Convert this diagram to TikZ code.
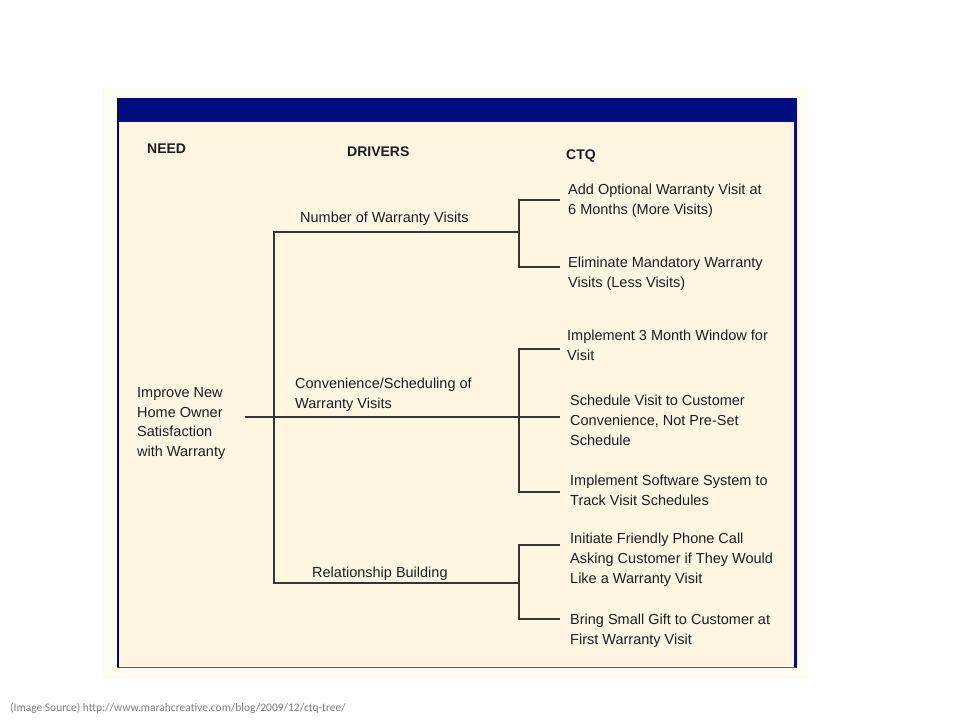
\documentclass[tikz,border=0pt]{standalone}
\usepackage{fontspec}
\setmainfont{Liberation Sans}
\newfontfamily\footfont{Carlito}
\definecolor{outerbg}{HTML}{FFFDF1}
\definecolor{innerbg}{HTML}{FFF5E3}
\definecolor{navy}{HTML}{000C80}
\definecolor{linec}{HTML}{3A3530}
\definecolor{txt}{HTML}{1E1E1E}
\definecolor{foot}{HTML}{7F7F7F}
\tikzset{
  lbl/.style={anchor=west, inner sep=0pt, align=left, text=txt,
    font=\fontsize{14.5}{19.8}\selectfont},
  hdr/.style={anchor=west, inner sep=0pt, text=txt,
    font=\fontsize{14}{17}\selectfont\bfseries},
  conn/.style={draw=linec, line width=1.8pt},
}
\begin{document}
\begin{tikzpicture}[x=1pt,y=-1pt]
\useasboundingbox (0,0) rectangle (960,720);
\fill[white] (0,0) rectangle (960,720);
% panel
\fill[outerbg] (103,88) rectangle (808,679);
\fill[innerbg] (117,98) rectangle (796,668);
\fill[navy] (117,98) rectangle (796,122);
\draw[navy!70!black, line width=2pt] (118,98) -- (118,668);
\draw[navy, line width=3pt] (795,98) -- (795,668);
\draw[black!65, line width=1.6pt] (117,667.5) -- (796,667.5);
% headings
\node[hdr] (need) at (147,149) {NEED};
\node[hdr] (drivers) at (347,152) {DRIVERS};
\node[hdr] (ctq) at (566,156) {CTQ};
% need text
\node[lbl] (goal) at (137,423.5) {Improve New\\Home Owner\\Satisfaction\\with Warranty};
% drivers
\node[lbl] (d1) at (300,219) {Number of Warranty Visits};
\node[lbl] (d2) at (295,395) {Convenience/Scheduling of\\Warranty Visits};
\node[lbl] (d3) at (312,574) {Relationship Building};
% ctqs
\node[lbl] (c1) at (568,201) {Add Optional Warranty Visit at\\6 Months (More Visits)};
\node[lbl] (c2) at (568,274) {Eliminate Mandatory Warranty\\Visits (Less Visits)};
\node[lbl] (c3) at (567,345) {Implement 3 Month Window for\\Visit};
\node[lbl] (c4) at (570,420.5) {Schedule Visit to Customer\\Convenience, Not Pre-Set\\Schedule};
\node[lbl] (c5) at (570,490.5) {Implement Software System to\\Track Visit Schedules};
\node[lbl] (c6) at (570,560) {Initiate Friendly Phone Call\\Asking Customer if They Would\\Like a Warranty Visit};
\node[lbl] (c7) at (570,631) {Bring Small Gift to Customer at\\First Warranty Visit};
% junction coordinates
\coordinate (gstart) at (245,417);
\coordinate (ttop) at (274,232);
\coordinate (tbot) at (274,583);
\coordinate (b1) at (519,232);
\coordinate (b2) at (519,417);
\coordinate (b3) at (519,583);
\coordinate (e1) at (560,200);
\coordinate (e2) at (560,267);
\coordinate (e3) at (560,349);
\coordinate (e4) at (560,417);
\coordinate (e5) at (560,492);
\coordinate (e6) at (560,545);
\coordinate (e7) at (560,619);
% connectors
\draw[conn] (gstart) -- (e4);
\draw[conn] (b1) -- (ttop) -- (tbot) -- (b3);
\draw[conn] (e1) -| (b1) |- (e2);
\draw[conn] (e3) -| (b2) |- (e5);
\draw[conn] (e6) -| (b3) |- (e7);
% footer
\node[anchor=west, inner sep=0pt, text=foot, font=\footfont\fontsize{11.5}{13}\selectfont] (src) at (10,708) {(Image Source) http://www.marahcreative.com/blog/2009/12/ctq-tree/};
\end{tikzpicture}
\end{document}
